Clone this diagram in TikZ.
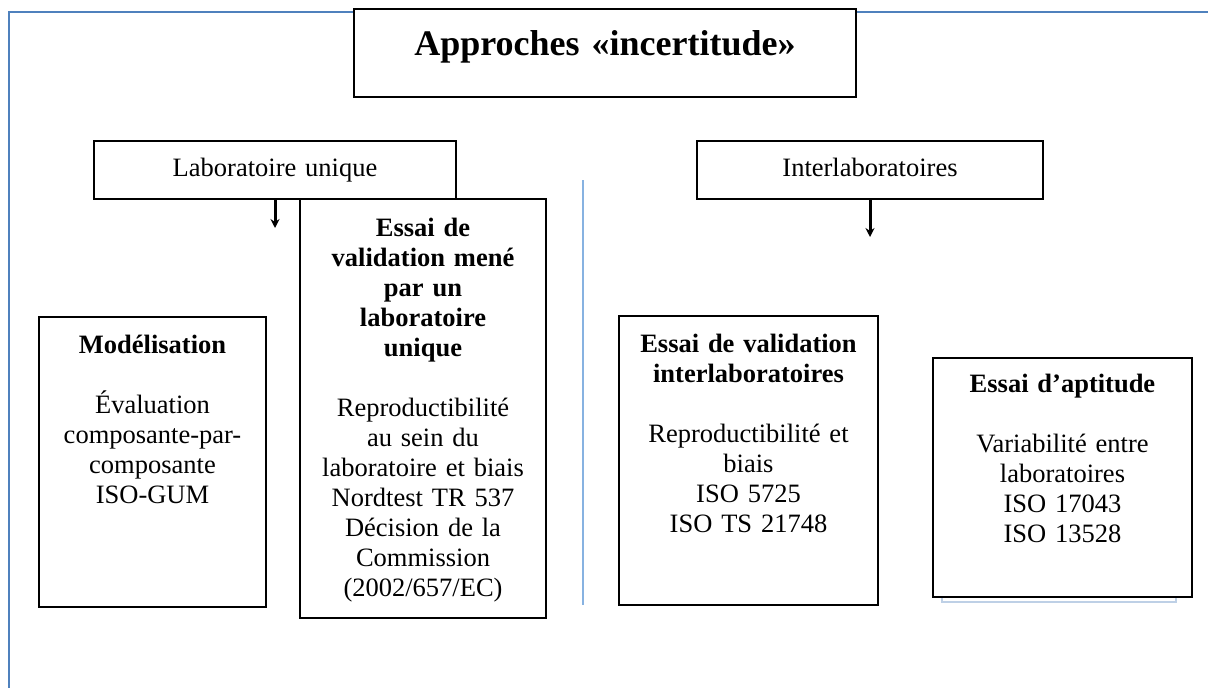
\documentclass[tikz,border=0pt]{standalone}
\usepackage{fontspec}
\setmainfont{Liberation Serif}
\usetikzlibrary{arrows.meta}

\definecolor{frameblue}{RGB}{79,129,189}
\definecolor{sepblue}{RGB}{135,178,225}
\definecolor{shadowblue}{RGB}{190,208,230}

\tikzset{
  box/.style={draw=black, line width=1.8pt, fill=white, inner sep=0pt,
    align=center, anchor=base, font=\fontsize{26.5}{30}\selectfont},
  titlebox/.style={box, font=\fontsize{36}{40}\selectfont\bfseries},
  arr/.style={line width=3pt, -{Stealth[length=9pt,width=9pt]}},
}

\begin{document}
\begin{tikzpicture}[x=1pt,y=-1pt]
  \useasboundingbox (0,0) rectangle (1208,688);
  % blue frame
  \draw[frameblue, line width=2.8pt] (9,688) -- (9,12) -- (1208,12);

  \node[titlebox, text width=502pt, text height=46pt, text depth=42pt]
    (title) at (605,55) {Approches «incertitude»};

  % two branches
  \node[box, text width=362pt, text height=35pt, text depth=23pt]
    (lab) at (275,176) {Laboratoire unique};
  \node[box, text width=346pt, text height=35pt, text depth=23pt]
    (inter) at (870,176) {Interlaboratoires};

  % separator
  \coordinate (septop) at (583,180);
  \coordinate (sepbot) at (583,605);
  \draw[sepblue, line width=2.2pt] (septop) -- (sepbot);

  % laboratoire unique
  \node[box, text width=227pt, text height=36pt, text depth=254pt]
    (model) at (152.5,353) {\textbf{Modélisation}\\[30pt]Évaluation\\composante-par-\\composante\\ISO-GUM};
  \node[box, text width=246pt, text height=37pt, text depth=382pt]
    (valid) at (423,236) {\textbf{Essai de}\\\textbf{validation mené}\\\textbf{par un}\\\textbf{laboratoire}\\\textbf{unique}\\[30pt]Reproductibilité\\au sein du\\laboratoire et biais\\Nordtest TR 537\\Décision de la\\Commission\\(2002/657/EC)};

  % interlaboratoires
  \node[box, text width=259pt, text height=36pt, text depth=253pt]
    (interval) at (748.5,352) {\textbf{Essai de validation}\\\textbf{interlaboratoires}\\[30pt]Reproductibilité et\\biais\\ISO 5725\\ISO TS 21748};
  \draw[shadowblue, line width=1.5pt] (942,590) rectangle (1176,602);
  \node[box, text width=259pt, text height=34pt, text depth=205pt]
    (aptitude) at (1062.5,392) {\textbf{Essai d’aptitude}\\[30pt]Variabilité entre\\laboratoires\\ISO 17043\\ISO 13528};

  % arrows
  \coordinate (labtip) at (275,228);
  \coordinate (intertip) at (870,237);
  \draw[arr] (lab.south) -- (labtip);
  \draw[arr] (inter.south) -- (intertip);
\end{tikzpicture}
\end{document}
